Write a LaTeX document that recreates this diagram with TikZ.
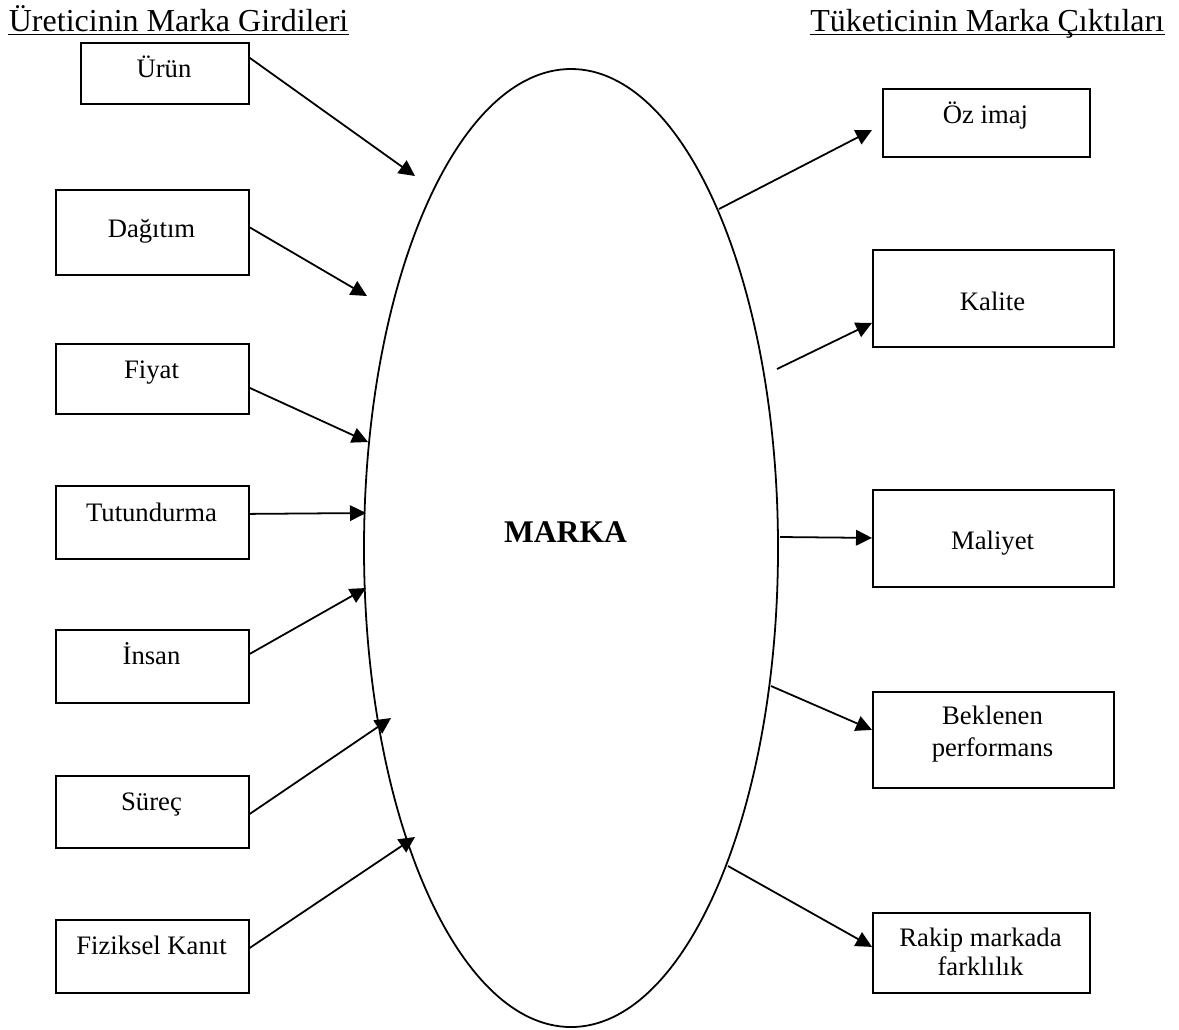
\documentclass[tikz,border=0pt]{standalone}
\usepackage{fontspec}
\setmainfont{Liberation Serif}
\usetikzlibrary{arrows.meta,shapes.geometric,calc}
\begin{document}
\begin{tikzpicture}[x=0.45pt,y=-0.45pt,
  line width=0.8pt,
  boxnode/.style={draw,rectangle,anchor=north west,inner sep=0pt},
  lbl/.style={font=\fontsize{12}{13.6}\selectfont,anchor=base,align=center,inner sep=0pt},
  ttl/.style={font=\fontsize{14.4}{16}\selectfont,inner sep=0pt},
  arr/.style={-{Triangle[length=7.2pt,width=7pt]}}]
\useasboundingbox (0,0) rectangle (1179,1029);
% titles
\node[ttl,anchor=base west] (tl) at (8,31.5) {Üreticinin Marka Girdileri};
\node[ttl,anchor=base east] (tr) at (1165,31.5) {Tüketicinin Marka Çıktıları};
\draw[line width=0.75pt] ($(tl.base west)+(0,3)$) -- ($(tl.base east)+(0,3)$);
\draw[line width=0.75pt] ($(tr.base west)+(0,3)$) -- ($(tr.base east)+(0,3)$);
% ellipse
\node[draw,ellipse,minimum width=186.3pt,minimum height=431.1pt,inner sep=0pt] (marka) at (571,548) {};
\node[font=\fontsize{14.2}{16}\selectfont\bfseries,anchor=base,inner sep=0pt] (markaT) at (565.5,542) {MARKA};
% left boxes
\node[boxnode,minimum width=75.6pt,minimum height=27.45pt] (urun) at (80,42) {};
\node[boxnode,minimum width=86.85pt,minimum height=38.25pt] (dag) at (55,189) {};
\node[boxnode,minimum width=86.85pt,minimum height=31.5pt] (fiy) at (55,343) {};
\node[boxnode,minimum width=86.85pt,minimum height=32.85pt] (tut) at (55,485) {};
\node[boxnode,minimum width=86.85pt,minimum height=32.85pt] (ins) at (55,629) {};
\node[boxnode,minimum width=86.85pt,minimum height=32.4pt] (sur) at (55,775) {};
\node[boxnode,minimum width=86.85pt,minimum height=32.85pt] (fiz) at (55,919) {};
\node[lbl] (urunT) at (164,77) {Ürün};
\node[lbl] (dagT) at (151.5,237) {Dağıtım};
\node[lbl] (fiyT) at (151.5,378) {Fiyat};
\node[lbl] (tutT) at (151.5,521) {Tutundurma};
\node[lbl] (insT) at (151.5,664) {İnsan};
\node[lbl] (surT) at (151.5,810) {Süreç};
\node[lbl] (fizT) at (151.5,954) {Fiziksel Kanıt};
% right boxes
\node[boxnode,minimum width=93.15pt,minimum height=30.6pt] (oz) at (882,88) {};
\node[boxnode,minimum width=108.45pt,minimum height=43.65pt] (kal) at (872,249) {};
\node[boxnode,minimum width=108.45pt,minimum height=43.65pt] (mal) at (872,489) {};
\node[boxnode,minimum width=108.45pt,minimum height=43.2pt] (bek) at (872,691) {};
\node[boxnode,minimum width=97.65pt,minimum height=36pt] (rak) at (872,912) {};
\node[lbl] (ozT) at (985.5,123) {Öz imaj};
\node[lbl] (kalT) at (992.5,310) {Kalite};
\node[lbl] (malT) at (992.5,549) {Maliyet};
\node[lbl,font=\fontsize{12}{14}\selectfont] (bekT) at (992.5,756) {Beklenen\\performans};
\node[lbl,font=\fontsize{12}{13}\selectfont] (rakT) at (980.5,975) {Rakip markada\\farklılık};
% free ends near the ellipse
\coordinate (e1) at (415,176);
\coordinate (e2) at (367,296);
\coordinate (e3) at (368,442);
\coordinate (e4) at (366,513);
\coordinate (e5) at (366,588);
\coordinate (e6) at (391,718);
\coordinate (e7) at (415,837);
\coordinate (s1) at (719,209);
\coordinate (s2) at (777,369);
\coordinate (s3) at (780,537);
\coordinate (s4) at (771,686);
\coordinate (s5) at (728,866);
\coordinate (ozTip) at (872,130);
% input arrows
\draw[arr] ($(urun.east)+(0,-15.5)$) -- (e1);
\draw[arr] ($(dag.east)+(0,-5)$) -- (e2);
\draw[arr] ($(fiy.east)+(0,9)$) -- (e3);
\draw[arr] ($(tut.east)+(0,-8.5)$) -- (e4);
\draw[arr] ($(ins.east)+(0,-12.5)$) -- (e5);
\draw[arr] ($(sur.east)+(0,2)$) -- (e6);
\draw[arr] ($(fiz.east)+(0,-8.5)$) -- (e7);
% output arrows
\draw[arr] (s1) -- (ozTip);
\draw[arr] (s2) -- ($(kal.west)+(0,24.5)$);
\draw[arr] (s3) -- ($(mal.west)+(0,-0.5)$);
\draw[arr] (s4) -- ($(bek.west)+(0,-10)$);
\draw[arr] (s5) -- ($(rak.west)+(0,-6)$);
\end{tikzpicture}
\end{document}
